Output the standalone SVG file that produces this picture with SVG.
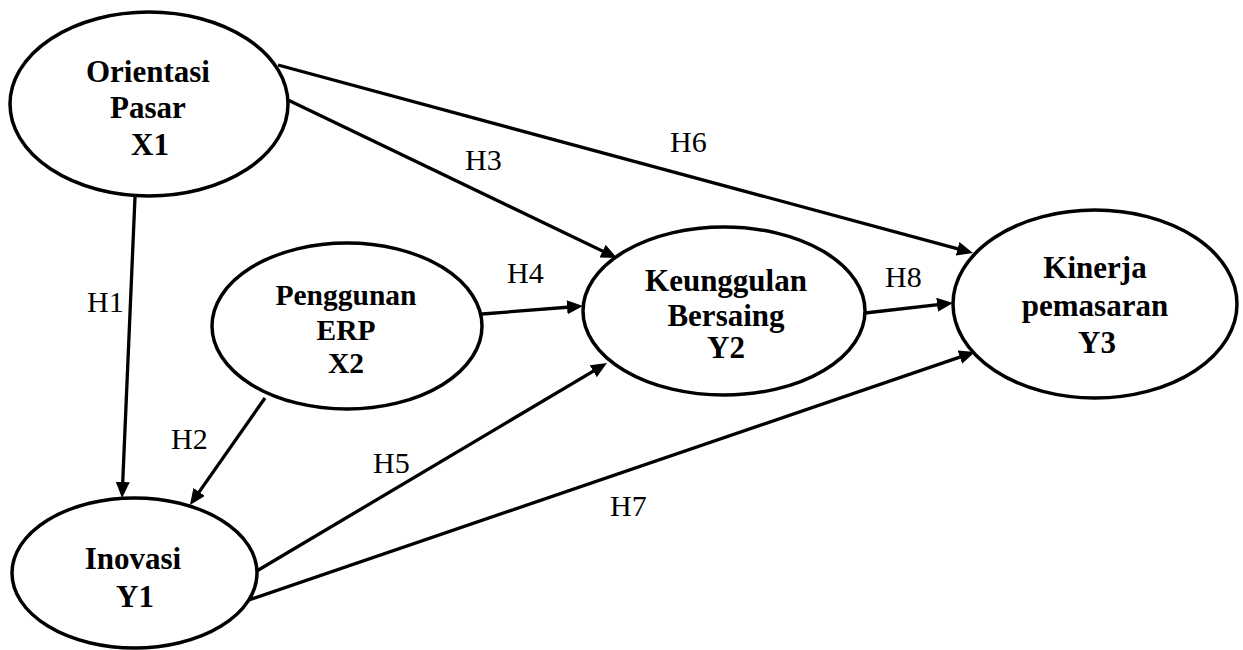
<svg xmlns="http://www.w3.org/2000/svg" width="1243" height="650" viewBox="0 0 1243 650">
<style>
.node ellipse{fill:#fff;stroke:#000;stroke-width:3.5}
.t{font-family:"Liberation Serif","Times New Roman",serif;font-weight:bold;font-size:31px;fill:#000;text-anchor:middle}
.lbl{font-family:"Liberation Serif","Times New Roman",serif;font-size:30px;fill:#000}
.edges line{stroke:#000;stroke-width:3.3;marker-end:url(#ah)}
</style>
<defs>
<marker id="ah" viewBox="0 0 16 14" refX="10" refY="7" markerWidth="16" markerHeight="14" markerUnits="userSpaceOnUse" orient="auto">
<path d="M0,0 L16,7 L0,14 z" fill="#000"/>
</marker>
</defs>
<rect width="1243" height="650" fill="#fff"/>
<g class="edges" id="connectors">
<line x1="135" y1="197" x2="122.3" y2="492"/>
<line x1="265" y1="398" x2="193.4" y2="500.1"/>
<line x1="288" y1="100" x2="611.6" y2="255.4"/>
<line x1="278" y1="65" x2="967.2" y2="251.4"/>
<line x1="482" y1="314" x2="577" y2="306.5"/>
<line x1="255" y1="572" x2="601.8" y2="366.1"/>
<line x1="249" y1="600" x2="969.3" y2="353.9"/>
<line x1="865" y1="313" x2="947" y2="303.7"/>
</g>
<g id="labels">
<text class="lbl" x="87" y="312">H1</text>
<text class="lbl" x="171" y="449">H2</text>
<text class="lbl" x="465" y="170">H3</text>
<text class="lbl" x="507" y="283">H4</text>
<text class="lbl" x="373" y="473">H5</text>
<text class="lbl" x="670" y="152">H6</text>
<text class="lbl" x="610" y="516">H7</text>
<text class="lbl" x="885" y="287">H8</text>
</g>
<g class="node" id="orientasi">
<ellipse cx="149" cy="104" rx="139" ry="92"/>
<text class="t" x="148" y="82">Orientasi</text>
<text class="t" x="148" y="118">Pasar</text>
<text class="t" x="150" y="155">X1</text>
</g>
<g class="node" id="erp">
<ellipse cx="347" cy="326" rx="135" ry="83"/>
<text class="t" x="346" y="305" style="font-size:29.5px">Penggunan</text>
<text class="t" x="346" y="340" style="font-size:29.5px">ERP</text>
<text class="t" x="346" y="373" style="font-size:29.5px">X2</text>
</g>
<g class="node" id="keunggulan">
<ellipse cx="724" cy="311" rx="141" ry="84"/>
<text class="t" x="726" y="291">Keunggulan</text>
<text class="t" x="726" y="326">Bersaing</text>
<text class="t" x="726" y="358">Y2</text>
</g>
<g class="node" id="kinerja">
<ellipse cx="1095" cy="304" rx="142" ry="94"/>
<text class="t" x="1095" y="278">Kinerja</text>
<text class="t" x="1095" y="316">pemasaran</text>
<text class="t" x="1097" y="353">Y3</text>
</g>
<g class="node" id="inovasi">
<ellipse cx="134.5" cy="573" rx="122.5" ry="75"/>
<text class="t" x="133" y="569">Inovasi</text>
<text class="t" x="135" y="607">Y1</text>
</g>
</svg>
